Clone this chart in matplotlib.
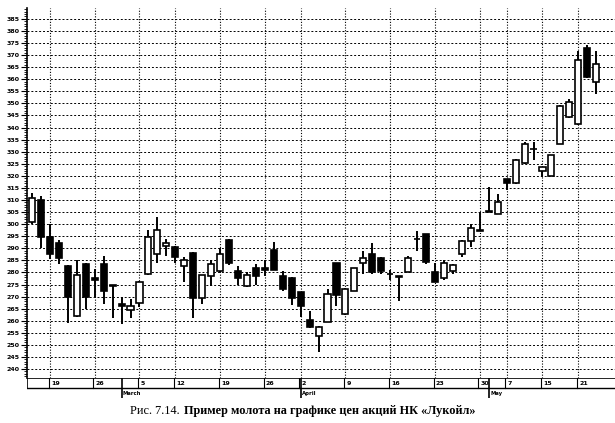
import matplotlib
matplotlib.use("Agg")
import matplotlib.pyplot as plt
from matplotlib.ticker import MultipleLocator

# daily prices (one candle per trading day)
opens = [301, 310, 294.5, 292, 282.5, 262, 283.5, 277.5, 283.5, 275,
         267, 264.5, 267.5, 279.5, 287.5, 291, 290.5, 282.5, 288, 269.5,
         278.5, 280.5, 293.5, 280.5, 274.5, 282, 282, 289.5, 278.5, 277.5,
         272, 260.5, 253.5, 259.5, 284, 263, 272.5, 284, 287.5, 286,
         279.5, 278.5, 280, 294, 296, 280, 277.5, 280.5, 287.5, 293,
         297.5, 305, 304, 318.5, 317, 325.5, 331, 322, 320, 333,
         344.5, 341.5, 373, 359]
highs = [313, 311.5, 300, 293.5, 283, 285, 284, 281.5, 287, 275,
         270, 269, 276.5, 297.5, 303, 294, 291, 286.5, 288.5, 279,
         285, 290, 294, 282.5, 280, 283.5, 285, 292.5, 280.5, 278,
         272, 264, 258, 273, 284, 273.5, 282, 289, 292, 286.5,
         281, 278.5, 287, 297, 296, 284, 285, 283.5, 293.5, 300,
         305, 315.5, 312.5, 318.5, 327, 334, 334, 323.5, 328.5, 349.5,
         352, 371.5, 374, 371.5]
lows = [300, 290, 285.5, 283.5, 259, 261.5, 265, 270, 267, 261,
        258.5, 261, 265.5, 279, 284, 287, 284, 276, 261, 267,
        274.5, 280, 283, 275, 274, 275, 278.5, 281, 272.5, 266.5,
        261.5, 257, 247, 259.5, 266, 262.5, 272.5, 279.5, 279.5, 279.5,
        277, 268, 280, 289, 283.5, 276, 277, 279.5, 286.5, 290.5,
        297, 305, 304, 314, 316.5, 325, 326.5, 319.5, 320, 333,
        344, 341, 360.5, 354]
closes = [311, 294.5, 287.5, 286, 270, 279, 270, 277, 272.5, 274.5,
          266, 266, 276, 294.5, 297.5, 292, 286.5, 285, 269.5, 279,
          283.5, 287.5, 284, 277.5, 279, 278.7, 281, 281, 273, 269.5,
          266, 257.5, 257.5, 271, 270.5, 273, 282, 286, 280, 280.5,
          279.5, 278, 286, 294, 284.5, 276, 284, 283, 293, 298.5,
          297, 305.5, 309, 317, 326.5, 333, 331, 323.5, 328.5, 349,
          350.5, 368, 361, 366.5]

# week labels and where they sit (candle index)
tick_idx = [2, 7, 12, 16, 21, 26, 30, 35, 40, 45, 50, 53, 57, 61]
tick_labels = ['19', '26', '5', '12', '19', '26', '2', '9', '16', '23', '30', '7', '15', '21']
month_idx = [10, 30, 51]
month_labels = ['March', 'April', 'May']

W, H = 615, 423
fig = plt.figure(figsize=(W / 100, H / 100), dpi=100)

x_left, x_right = -0.56, 65.1
ax = fig.add_axes([27 / W, (H - 378) / H, (W - 27) / W, 370 / H])
ax.set_xlim(x_left, x_right)
ax.set_ylim(236.3, 389.5)

x = list(range(len(opens)))
ax.vlines(x, lows, highs, color='black', linewidth=1.4, zorder=2)
bottoms = [min(o, c) for o, c in zip(opens, closes)]
heights = [abs(c - o) for o, c in zip(opens, closes)]
fills = ['white' if c > o else 'black' for o, c in zip(opens, closes)]
ax.bar(x, heights, bottom=bottoms, width=0.68, color=fills,
       edgecolor='black', linewidth=1.2, zorder=3)

ax.yaxis.set_major_locator(MultipleLocator(5))
ax.yaxis.set_minor_locator(MultipleLocator(1))
ax.set_xticks(tick_idx)
ax.tick_params(axis='x', length=0, labelbottom=False)
ax.tick_params(axis='y', which='major', length=4, width=0.8, labelsize=4.5, pad=1.5)
ax.tick_params(axis='y', which='minor', length=2, width=0.6)
for lab in ax.get_yticklabels():
    lab.set_fontweight('bold')
ax.grid(axis='y', which='major', color='black', linestyle=(0, (2, 2)), linewidth=0.7)
ax.grid(axis='x', which='major', color='black', linestyle=(0, (1, 1.5)), linewidth=0.8)
for s in ['top', 'right', 'bottom']:
    ax.spines[s].set_visible(False)
ax.spines['left'].set_linewidth(1.2)

# date strip under the chart
ax2 = fig.add_axes([27 / W, (H - 398) / H, (W - 27) / W, 20 / H])
ax2.set_xlim(x_left, x_right)
ax2.set_ylim(0, 20)
ax2.axis('off')
ax2.axhline(20, color='black', linewidth=1.2)
ax2.axhline(10, color='black', linewidth=1.0)
ax2.axvline(x_left, ymin=0.5, ymax=1, color='black', linewidth=1.2)
for i, lab in zip(tick_idx, tick_labels):
    ax2.plot([i - 0.15, i - 0.15], [10, 20], color='black', linewidth=0.8)
    ax2.text(i + 0.1, 15, lab, fontsize=4.5, fontweight='bold', va='center', ha='left')
for i, lab in zip(month_idx, month_labels):
    ax2.plot([i, i], [0, 20], color='black', linewidth=1.2)
    ax2.text(i + 0.15, 5, lab, fontsize=3.8, fontweight='bold', va='center', ha='left')

# caption
t1 = fig.text(130 / W, (H - 414) / H, 'Рис. 7.14.', family='Liberation Serif',
              fontsize=8.8, va='baseline', ha='left')
fig.canvas.draw()
bb = t1.get_window_extent(fig.canvas.get_renderer())
fig.text((bb.x1 + 4) / W, (H - 414) / H,
         'Пример молота на графике цен акций НК «Лукойл»',
         family='Liberation Serif', fontsize=8.8, fontweight='bold',
         va='baseline', ha='left')

fig.savefig('out.png', dpi=100)
